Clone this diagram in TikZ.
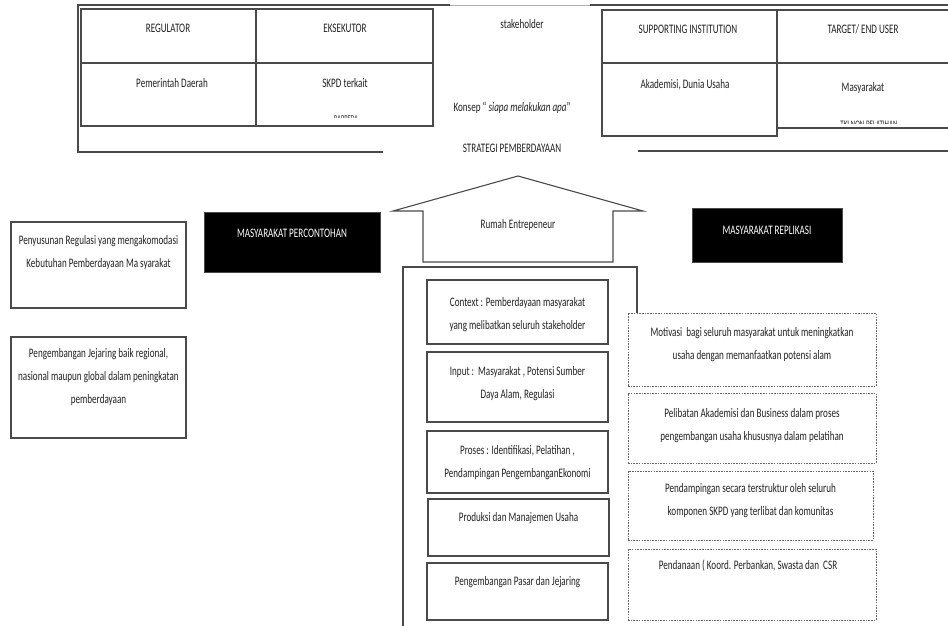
\documentclass[tikz,border=0pt]{standalone}
\usepackage{fontspec}
\setmainfont{Carlito}[FakeStretch=0.7]
\definecolor{linegray}{HTML}{4A4A4A}
\definecolor{lightline}{HTML}{B0B0B0}
\definecolor{textgray}{HTML}{222222}
\definecolor{dashgray}{HTML}{666666}
\begin{document}
\begin{tikzpicture}[x=1pt,y=-1pt,
  box/.style={draw=linegray, line width=1.1pt, inner sep=0pt},
  dbox/.style={draw=dashgray, line width=0.9pt, dash pattern=on 1.6pt off 1.1pt, inner sep=0pt},
  blk/.style={fill=black, draw=linegray, line width=0.6pt, inner sep=0pt},
  txt/.style={font=\fontsize{13}{23}\selectfont, text=textgray, align=center, inner sep=0pt},
  wtxt/.style={txt, text=white},
  frame/.style={draw=linegray, line width=1.1pt}]
\clip (0,0) rectangle (948,626);
\fill[white] (0,0) rectangle (948,626);

% top frame lines
\draw[lightline, line width=0.6pt] (450,5) -- (590,5);
\draw[frame] (450,5) -- (78,5) -- (78,152) -- (383,152);
\draw[frame] (590,5) -- (960,5);
\draw[frame] (638,151) -- (960,151);

% header boxes
\node[box, minimum width=175pt, minimum height=54pt] (reg1) at (168.5,36) {};
\node[box, minimum width=175pt, minimum height=63pt] (reg2) at (168.5,94.5) {};
\node[box, minimum width=177pt, minimum height=54pt] (eks1) at (344.5,36) {};
\node[box, minimum width=177pt, minimum height=63pt] (eks2) at (344.5,94.5) {};
\node[box, minimum width=175pt, minimum height=53pt] (sup1) at (689.5,36.5) {};
\node[box, minimum width=175pt, minimum height=73pt] (sup2) at (689.5,99.5) {};
\node[box, minimum width=183pt, minimum height=53pt] (tar1) at (868.5,36.5) {};
\node[box, minimum width=183pt, minimum height=65pt] (tar2) at (868.5,95.5) {};

\node[txt] (treg) at (168,28) {REGULATOR};
\node[txt] (teks) at (345,28) {EKSEKUTOR};
\node[txt] (tstake) at (522,24) {stakeholder};
\node[txt] (tsup) at (688,29) {SUPPORTING INSTITUTION};
\node[txt] (ttar) at (863,29) {TARGET/ END USER};
\node[txt] (tpem) at (172,83) {Pemerintah Daerah};
\node[txt] (tskpd) at (345,83) {SKPD terkait};
\node[txt] (taka) at (685,85) {Akademisi, Dunia Usaha};
\node[txt] (tmas) at (863,88) {Masyarakat};
\node[txt] (tkon) at (512,108) {Konsep “\,\textit{siapa melakukan apa}”};
\node[txt] (tstr) at (512,148) {STRATEGI PEMBERDAYAAN};
\begin{scope}
  \clip (300,100) rectangle (400,117);
  \node[txt, font=\fontsize{9}{11}\selectfont] (tcut1) at (346,119) {BAPPEDA};
\end{scope}
\begin{scope}
  \clip (800,110) rectangle (940,123);
  \node[txt, font=\fontsize{10}{12}\selectfont] (tcut2) at (869,124.5) {TKI NON PELATIHAN};
\end{scope}

% left boxes
\node[box, minimum width=175pt, minimum height=86pt] (l1) at (98.5,265) {};
\node[txt] (tl1) at (98.5,252.5) {Penyusunan Regulasi yang mengakomodasi\\Kebutuhan Pemberdayaan Ma syarakat};
\node[box, minimum width=175pt, minimum height=101pt] (l2) at (98.5,387.5) {};
\node[txt] (tl2) at (98.5,377.5) {Pengembangan Jejaring baik regional,\\nasional maupun global dalam peningkatan\\pemberdayaan};

% black boxes
\node[blk, minimum width=176pt, minimum height=60pt] (b1) at (292,242) {};
\node[wtxt] (tb1) at (292,233) {MASYARAKAT PERCONTOHAN};
\node[blk, minimum width=150pt, minimum height=54pt] (b2) at (767,235) {};
\node[wtxt] (tb2) at (767,230) {MASYARAKAT REPLIKASI};

% house roof
\coordinate (rl) at (393,211);
\coordinate (ra) at (518,176);
\coordinate (rr) at (643,211);
\draw[frame, line join=miter] (rl) -- (ra) -- (rr) -- (613,211) -- (613,262) -- (423,262) -- (423,211) -- cycle;
\node[txt] (trumah) at (518,225) {Rumah Entrepeneur};

% house body frame
\draw[frame] (403,640) -- (403,267) -- (637,267) -- (637,313);

% center boxes
\node[box, minimum width=181pt, minimum height=64pt] (c1) at (517.5,312) {};
\node[txt] (tc1) at (517.5,314.5) {Context : Pemberdayaan masyarakat\\yang melibatkan seluruh stakeholder};
\node[box, minimum width=181pt, minimum height=70pt] (c2) at (517.5,387) {};
\node[txt] (tc2) at (517.5,383.5) {Input :\ \ Masyarakat , Potensi Sumber\\Daya Alam, Regulasi};
\node[box, minimum width=181pt, minimum height=62pt] (c3) at (517.5,462) {};
\node[txt] (tc3) at (517.5,463) {Proses : Identifikasi, Pelatihan ,\\Pendampingan PengembanganEkonomi};
\node[box, minimum width=181pt, minimum height=57pt] (c4) at (518.5,527.5) {};
\node[txt] (tc4) at (518.5,518) {Produksi dan Manajemen Usaha};
\node[box, minimum width=181pt, minimum height=57pt] (c5) at (517.5,591.5) {};
\node[txt] (tc5) at (517.5,582) {Pengembangan Pasar dan Jejaring};

% dashed boxes
\node[dbox, fill=white, minimum width=248pt, minimum height=73pt] (d1) at (752,349.5) {};
\node[txt] (td1) at (752,345) {Motivasi\ \ bagi seluruh masyarakat untuk meningkatkan\\usaha dengan memanfaatkan potensi alam};
\node[dbox, fill=white, minimum width=248pt, minimum height=70pt] (d2) at (752,428) {};
\node[txt] (td2) at (752,425.5) {Pelibatan Akademisi dan Business dalam proses\\pengembangan usaha khususnya dalam pelatihan};
\node[dbox, fill=white, minimum width=245pt, minimum height=69pt] (d3) at (750.5,505.5) {};
\node[txt] (td3) at (750.5,501) {Pendampingan secara terstruktur oleh seluruh\\komponen SKPD yang terlibat dan komunitas};
\node[dbox, fill=white, minimum width=248pt, minimum height=71pt] (d4) at (752,584.5) {};
\node[txt] (td4) at (748,566) {Pendanaan ( Koord. Perbankan, Swasta dan\ \ CSR};
\end{tikzpicture}
\end{document}
